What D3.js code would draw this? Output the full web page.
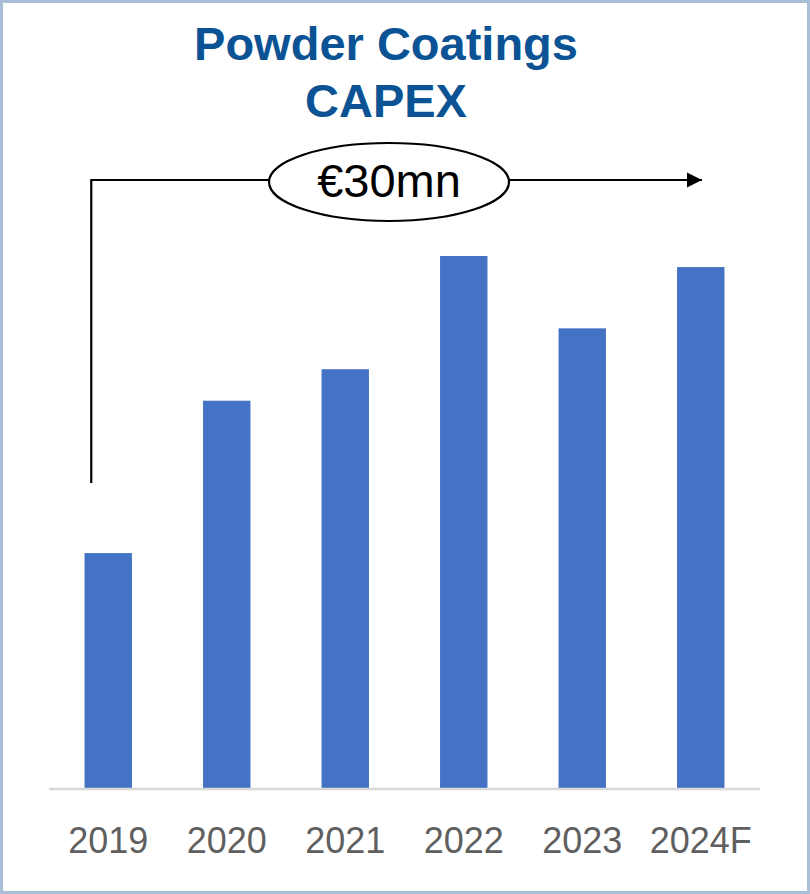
<!DOCTYPE html>
<html>
<head>
<meta charset="utf-8">
<script src="https://cdn.jsdelivr.net/npm/d3@7"></script>
<style>
  html, body { margin: 0; padding: 0; background: #fff; }
  svg { display: block; }
</style>
</head>
<body>
<div class="chart_area"></div>
<script>
// data (EUR mn, total ~30)
var years = ["2019", "2020", "2021", "2022", "2023", "2024F"];
var capex = [2.76, 4.55, 4.92, 6.25, 5.40, 6.12];
var titleLines = ["Powder Coatings", "CAPEX"];
var totalLabel = "€30mn";

var width = 810, height = 894;

var svg = d3.select(".chart_area").append("svg")
  .attr("width", width)
  .attr("height", height);

// frame
svg.append("rect")
  .attr("x", 1.5).attr("y", 1.5)
  .attr("width", width - 3).attr("height", height - 3)
  .style("fill", "#fff")
  .style("stroke", "#a8bfd7")
  .style("stroke-width", 3);

var x = d3.scaleBand()
  .domain(years)
  .range([49, 760])
  .paddingInner(0.6)
  .paddingOuter(0.3);

var y = d3.scaleLinear()
  .domain([0, 6.25])
  .range([788, 256]);

// title
svg.append("g").selectAll("text")
  .data(titleLines)
  .enter().append("text")
  .attr("x", 386)
  .attr("y", function (d, i) { return 60 + i * 57; })
  .style("text-anchor", "middle")
  .style("font-family", "'Liberation Sans', Arial, sans-serif")
  .style("font-weight", "bold")
  .style("font-size", "47px")
  .style("fill", "#0b5394")
  .text(function (d) { return d; });

// bars
svg.append("g").selectAll("rect")
  .data(capex)
  .enter().append("rect")
  .attr("x", function (d, i) { return x(years[i]); })
  .attr("y", function (d) { return y(d); })
  .attr("width", x.bandwidth())
  .attr("height", function (d) { return y(0) - y(d); })
  .style("fill", "#4472c4");

// baseline + labels
var xAxis = svg.append("g")
  .attr("transform", "translate(0," + (y(0) + 1) + ")")
  .call(d3.axisBottom(x).tickSize(0).tickPadding(38));
xAxis.select(".domain")
  .attr("d", "M49,0H760")
  .style("stroke", "#d9d9d9")
  .style("stroke-width", 2.5);
xAxis.selectAll(".tick text")
  .style("font-family", "'Liberation Sans', Arial, sans-serif")
  .style("font-size", "36px")
  .style("fill", "#5f5f5f");

// total bracket
var bx = x(years[0]) + x.bandwidth() / 2 - 17;
var by = 180;
var ex = 389, ery = 39, erx = 120;
var arrowEnd = 702;

svg.append("defs").append("marker")
  .attr("id", "arrow")
  .attr("viewBox", "0 0 10 10")
  .attr("refX", 10).attr("refY", 5)
  .attr("markerWidth", 7).attr("markerHeight", 7)
  .attr("markerUnits", "strokeWidth")
  .attr("orient", "auto")
  .append("path")
  .attr("d", "M0,0L10,5L0,10Z")
  .style("fill", "#000");

svg.append("path")
  .attr("d", "M" + bx + ",483V" + by + "H" + (ex - erx))
  .style("fill", "none")
  .style("stroke", "#000")
  .style("stroke-width", 2.2);

svg.append("path")
  .attr("d", "M" + (ex + erx) + "," + by + "H" + arrowEnd)
  .attr("marker-end", "url(#arrow)")
  .style("fill", "none")
  .style("stroke", "#000")
  .style("stroke-width", 2.2);

svg.append("ellipse")
  .attr("cx", ex).attr("cy", 182)
  .attr("rx", erx).attr("ry", ery)
  .style("fill", "#fff")
  .style("stroke", "#000")
  .style("stroke-width", 2.2);

svg.append("text")
  .attr("x", ex).attr("y", 197)
  .style("text-anchor", "middle")
  .style("font-family", "'Liberation Sans', Arial, sans-serif")
  .style("font-size", "47px")
  .style("fill", "#000")
  .text(totalLabel);
</script>
</body>
</html>
